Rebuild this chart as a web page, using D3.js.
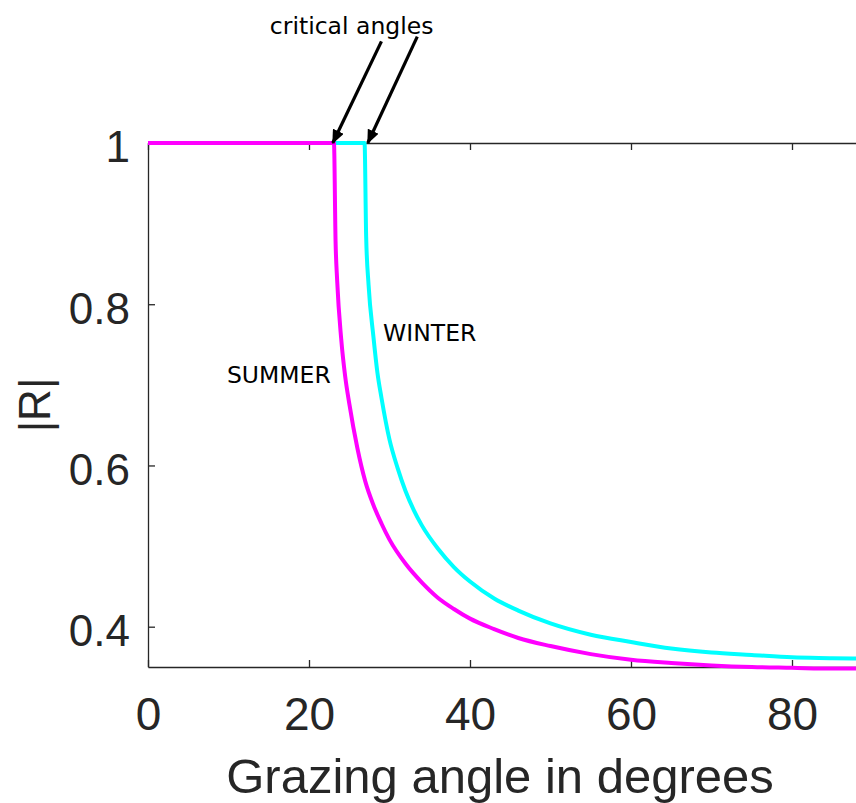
<!DOCTYPE html>
<html><head><meta charset="utf-8">
<script src="https://cdn.jsdelivr.net/npm/d3@7/dist/d3.min.js"></script>
<style>body{margin:0;background:#fff} svg{display:block}</style>
</head><body><svg id="chart" width="856" height="803"></svg>
<script>
// ---- data ----
const summerAngle = [0, 23.1, 23.3, 23.5, 24, 24.5, 25, 26, 27, 28, 29, 30, 32, 34, 36, 38, 40, 43, 46, 50, 55, 60, 65, 70, 75, 80, 85, 90];
const summerR = [1, 1, 0.878, 0.829, 0.757, 0.71, 0.677, 0.622, 0.58, 0.551, 0.528, 0.508, 0.478, 0.455, 0.436, 0.422, 0.410, 0.397, 0.386, 0.376, 0.366, 0.359, 0.355, 0.352, 0.350, 0.349, 0.348, 0.348];
const winterAngle = [0, 26.9, 27.1, 27.4, 28, 28.5, 29, 30, 31, 32, 33, 34, 36, 38, 40, 43, 46, 50, 55, 60, 65, 70, 75, 80, 85, 90];
const winterR = [1, 1, 0.884, 0.824, 0.76, 0.715, 0.684, 0.632, 0.597, 0.568, 0.545, 0.526, 0.497, 0.474, 0.456, 0.435, 0.420, 0.404, 0.390, 0.381, 0.373, 0.368, 0.365, 0.362, 0.361, 0.360];
const xTicks = [0, 20, 40, 60, 80];
const yTicks = [0.4, 0.6, 0.8, 1];
const yTickLabels = ["0.4", "0.6", "0.8", "1"];
const xLabel = "Grazing angle in degrees";
const yLabel = "|R|";
const seriesNames = ["WINTER", "SUMMER"];
const arrowText = "critical angles";
// annotation anchors in data units (angle, |R|)
const arrowFrom = [[29.0, 1.126], [33.45, 1.132]];
const arrowTo = [[22.95, 1.0], [27.3, 1.0]];

// ---- layout ----
const svg = d3.select("#chart");
svg.append("rect").attr("width", 856).attr("height", 803).attr("fill", "#fff");
const x = d3.scaleLinear().domain([0, 90]).range([148, 872.5]);
const y = d3.scaleLinear().domain([0.35, 1]).range([667, 143]);
const axisColor = "#262626";
const tickFont = "'Liberation Sans', Arial, sans-serif";

function styleAxis(g) {
  g.select(".domain").attr("stroke", axisColor).attr("stroke-width", 1.3);
  g.selectAll(".tick line").attr("stroke", axisColor).attr("stroke-width", 1.3);
  g.selectAll(".tick text").attr("fill", axisColor).attr("font-family", tickFont);
}

// bottom axis
const gx = svg.append("g").attr("transform", `translate(0,${y(0.35)})`)
  .call(d3.axisBottom(x).tickValues(xTicks).tickSizeInner(-7).tickSizeOuter(0).tickPadding(30));
styleAxis(gx);
gx.selectAll(".tick text").attr("font-size", 46).attr("dy", "0.71em");

// top axis
const gt = svg.append("g").attr("transform", `translate(0,${y(1)})`)
  .call(d3.axisTop(x).tickValues(xTicks).tickSizeInner(-7).tickSizeOuter(0).tickFormat(""));
styleAxis(gt);

// left axis
const gy = svg.append("g").attr("transform", `translate(${x(0)},0)`)
  .call(d3.axisLeft(y).tickValues(yTicks).tickFormat((d, i) => yTickLabels[i]).tickSizeInner(-7).tickSizeOuter(0).tickPadding(18));
styleAxis(gy);
gy.selectAll(".tick text").attr("font-size", 44).attr("dy", "0.43em");

// axis titles
svg.append("text").attr("x", 500).attr("y", 793).attr("text-anchor", "middle")
  .attr("font-family", tickFont).attr("font-size", 49).attr("fill", axisColor).text(xLabel);
svg.append("text").attr("transform", "translate(50,405) rotate(-90)").attr("text-anchor", "middle")
  .attr("font-family", tickFont).attr("font-size", 44).attr("fill", axisColor).text(yLabel);

// curves
const line = d3.line().x(d => x(d[0])).y(d => y(d[1])).curve(d3.curveMonotoneX);
const winter = winterAngle.map((a, i) => [a, winterR[i]]);
const summer = summerAngle.map((a, i) => [a, summerR[i]]);
svg.append("path").datum(winter).attr("d", line).attr("fill", "none")
  .attr("stroke", "#00ffff").attr("stroke-width", 4).attr("stroke-linejoin", "round");
svg.append("path").datum(summer).attr("d", line).attr("fill", "none")
  .attr("stroke", "#ff00ff").attr("stroke-width", 4).attr("stroke-linejoin", "round");

// annotations
const annFont = "'DejaVu Sans', Verdana, sans-serif";
svg.append("defs").append("marker").attr("id", "ah")
  .attr("markerUnits", "userSpaceOnUse").attr("viewBox", "0 0 14 12")
  .attr("markerWidth", 14).attr("markerHeight", 12).attr("refX", 13).attr("refY", 6)
  .attr("orient", "auto")
  .append("path").attr("d", "M0,0 L14,6 L0,12 Z").attr("fill", "#000");
arrowFrom.forEach((s, i) => {
  const e = arrowTo[i];
  svg.append("line").attr("x1", x(s[0])).attr("y1", y(s[1]))
    .attr("x2", x(e[0])).attr("y2", y(e[1]))
    .attr("stroke", "#000").attr("stroke-width", 3.2).attr("marker-end", "url(#ah)");
});
svg.append("text").attr("x", x(25.3)).attr("y", y(1.135)).attr("text-anchor", "middle")
  .attr("font-family", annFont).attr("font-size", 23.5).attr("fill", "#000").text(arrowText);
svg.append("text").attr("x", x(29.2)).attr("y", y(0.754))
  .attr("font-family", annFont).attr("font-size", 23.5).attr("fill", "#000").text(seriesNames[0]);
svg.append("text").attr("x", x(9.8)).attr("y", y(0.702))
  .attr("font-family", annFont).attr("font-size", 23.5).attr("fill", "#000").text(seriesNames[1]);
</script>
</body></html>
